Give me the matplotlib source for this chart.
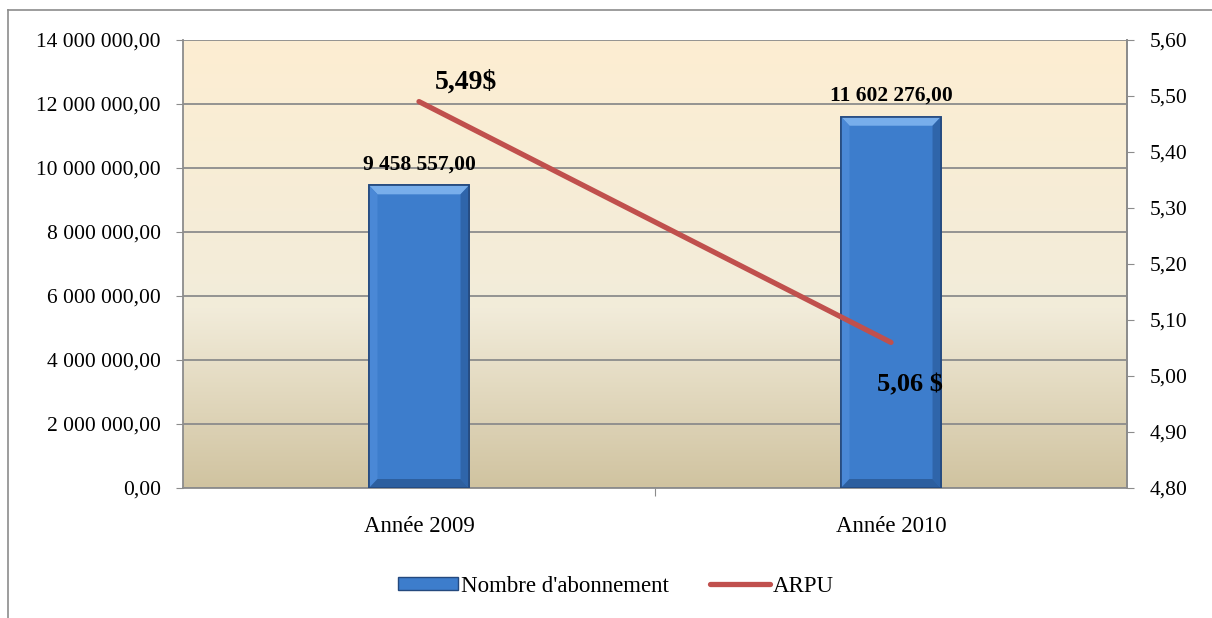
import matplotlib
matplotlib.use("Agg")
import matplotlib.pyplot as plt
import numpy as np
from matplotlib.lines import Line2D
from matplotlib.patches import Patch, Polygon
from matplotlib.ticker import FuncFormatter, MultipleLocator

categories = ["Année 2009", "Année 2010"]
abonnements = [9458557.00, 11602276.00]
arpu = [5.49, 5.06]
arpu_labels = ["5,49$", "5,06 $"]

plt.rcParams['font.family'] = ['Liberation Serif', 'DejaVu Serif']

fig = plt.figure(figsize=(12.12, 6.18), dpi=100)
ax = fig.add_axes([183/1212, 1-488/618, (1127-183)/1212, (488-40)/618])

# outer frame lines (left and top)
fig.add_artist(Line2D([8/1212, 8/1212], [0, 1-10/618], transform=fig.transFigure, color='#8c8c8c', lw=1.2))
fig.add_artist(Line2D([8/1212, 1], [1-10/618, 1-10/618], transform=fig.transFigure, color='#8c8c8c', lw=1.2))

# gradient background
top = np.array([253, 238, 210]) / 255
mid = np.array([242, 236, 218]) / 255
bot = np.array([208, 195, 160]) / 255
n = 256
t = np.linspace(0, 1, n)
grad = np.zeros((n, 1, 3))
for i, tt in enumerate(t):
    if tt < 0.6:
        c = top + (mid - top) * (tt / 0.6)
    else:
        c = mid + (bot - mid) * ((tt - 0.6) / 0.4)
    grad[i, 0] = c
ax.imshow(grad, extent=[0, 1, 0, 1], transform=ax.transAxes, aspect='auto', zorder=0)

x = np.arange(len(categories))
ax.set_xlim(-0.5, len(categories) - 0.5)
ax.set_ylim(0, 14000000)
ax.yaxis.set_major_locator(MultipleLocator(2000000))

def fmt_big(v, pos):
    return f"{v:,.2f}".replace(',', ' ').replace('.', ',')
ax.yaxis.set_major_formatter(FuncFormatter(fmt_big))

ax.grid(axis='y', color='#8c8c8c', lw=1.3, zorder=1)
ax.set_axisbelow(True)

bars = ax.bar(x, abonnements, width=0.212, color='#3D7DCC', edgecolor='#24497E', lw=1.2, zorder=3)

# bevel decoration derived from bar geometry
bdx = 0.018
bdy = 14000000 * 9 / 448
for b in bars:
    x0, w, h = b.get_x(), b.get_width(), b.get_height()
    x1 = x0 + w
    ax.add_patch(Polygon([[x0, h], [x1, h], [x1 - bdx, h - bdy], [x0 + bdx, h - bdy]],
                         closed=True, facecolor='#78AEEB', edgecolor='none', zorder=3.5))
    ax.add_patch(Polygon([[x0, 0], [x0, h], [x0 + bdx, h - bdy], [x0 + bdx, bdy]],
                         closed=True, facecolor='#4A88D6', edgecolor='none', zorder=3.5))
    ax.add_patch(Polygon([[x1, 0], [x1, h], [x1 - bdx, h - bdy], [x1 - bdx, bdy]],
                         closed=True, facecolor='#2F65AA', edgecolor='none', zorder=3.5))
    ax.add_patch(Polygon([[x0, 0], [x1, 0], [x1 - bdx, bdy], [x0 + bdx, bdy]],
                         closed=True, facecolor='#2D5F9F', edgecolor='none', zorder=3.5))
    ax.add_patch(plt.Rectangle((x0, 0), w, h, facecolor='none', edgecolor='#24497E', lw=1.2, zorder=3.6))

for xi, v in zip(x, abonnements):
    ax.text(xi, v + 350000, fmt_big(v, None), ha='center', va='bottom', fontsize=15.5, fontweight='bold', zorder=6)

ax.set_xticks([0.5])
ax.set_xticklabels([])
ax.tick_params(axis='x', length=6, color='#8c8c8c')
for xi, c in zip(x, categories):
    ax.text(xi, -0.087, c, transform=ax.get_xaxis_transform(), ha='center', va='center', fontsize=16.5)
ax.tick_params(axis='y', length=5, color='#8c8c8c', labelsize=15.5, pad=11)

for s in ['left', 'bottom', 'right']:
    ax.spines[s].set_color('#8c8c8c')
    ax.spines[s].set_linewidth(1.3)
ax.spines['top'].set_visible(False)

ax2 = ax.twinx()
ax2.set_ylim(4.8, 5.6)
ax2.yaxis.set_major_locator(MultipleLocator(0.1))
ax2.yaxis.set_major_formatter(FuncFormatter(lambda v, p: f"{v:.2f}".replace('.', ',')))
ax2.tick_params(axis='y', length=5, color='#8c8c8c', labelsize=15.5, pad=11)
for s in ['left', 'bottom', 'top']:
    ax2.spines[s].set_visible(False)
ax2.spines['right'].set_color('#8c8c8c')
ax2.spines['right'].set_linewidth(1.3)
ax2.plot(x, arpu, color='#C0504D', lw=3.8, solid_capstyle='round', zorder=5)

ax2.text(0.1, arpu[0] + 0.035, arpu_labels[0], ha='center', va='center', fontsize=20, fontweight='bold')
ax2.text(1.04, arpu[1] - 0.075, arpu_labels[1], ha='center', va='center', fontsize=19, fontweight='bold')

handles = [Patch(facecolor='#3D7DCC', edgecolor='#24497E'),
           Line2D([0], [0], color='#C0504D', lw=3.8, solid_capstyle='round')]
fig.legend(handles, ["Nombre d'abonnement", "ARPU"], loc='center', bbox_to_anchor=(616/1212, 1-586/618),
           ncol=2, frameon=False, fontsize=16.5, handlelength=2.6, handleheight=0.5,
           handletextpad=0.15, columnspacing=1.8)

fig.savefig('out.png', dpi=100)
